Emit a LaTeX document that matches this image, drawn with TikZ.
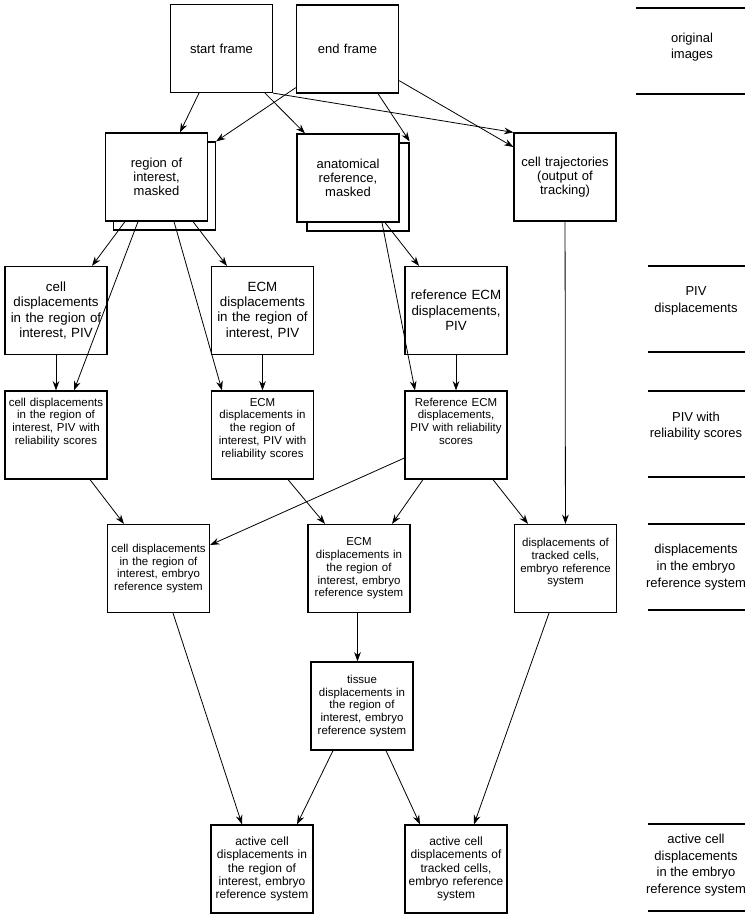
\documentclass[tikz,border=0pt]{standalone}
\usepackage{fontspec}
\setmainfont{Liberation Sans}
\usetikzlibrary{arrows.meta,shadows}

\begin{document}
\begin{tikzpicture}[x=0.75pt,y=-0.75pt,
    box/.style={draw,line width=0.9pt,fill=white,minimum width=76.5pt,minimum height=66pt,inner sep=1pt,text width=72pt,align=center},
    big/.style={font=\fontsize{9.75}{10.5}\selectfont},
    mid/.style={font=\fontsize{10}{11.5}\selectfont},
    small/.style={font=\fontsize{8.6}{9.6}\selectfont},
    foot/.style={font=\fontsize{9}{10}\selectfont},
    stack/.style={copy shadow={shadow xshift=#1,shadow yshift=-6.75pt,line width=0.9pt}},
    topped/.style 2 args={text height=#1,text depth=#2,inner ysep=0pt},
    link/.style={-{Stealth[length=7pt,width=5pt]},line width=0.6pt},
    level/.style={font=\fontsize{9.75}{12.5}\selectfont,align=center},
    rule/.style={line width=0.9pt}]
    \useasboundingbox (0,0) rectangle (750,918);

    % images
    \node[box,big] (sf) at (221.5,48.5) {start frame};
    \node[box,big] (ef) at (347.5,49) {end frame};
    \node[box,big,stack=6pt] (roi) at (156.5,177) {region of\\interest,\\masked};
    \node[box,big,stack=7.5pt] (anat) at (348,178) {anatomical\\reference,\\masked};
    \node[box,big] (traj) at (565,177) {cell trajectories\\(output of\\tracking)};

    % PIV
    \node[box,mid] (cpiv) at (56,310.5) {cell\\displacements\\in the region of\\interest, PIV};
    \node[box,mid] (epiv) at (262.5,310.5) {ECM\\displacements\\in the region of\\interest, PIV};
    \node[box,mid] (rpiv) at (456,310.5) {reference ECM\\displacements,\\PIV};

    % PIV with scores
    \node[box,small,topped={11.25pt}{54.75pt}] (crel) at (56,435) {cell displacements\\in the region of\\interest, PIV with\\reliability scores};
    \node[box,small,topped={11.25pt}{54.75pt}] (erel) at (262.5,435) {ECM\\displacements in\\the region of\\interest, PIV with\\reliability scores};
    \node[box,small,topped={11.25pt}{54.75pt}] (rrel) at (456,435) {Reference ECM\\displacements,\\PIV with reliability\\scores};

    % embryo reference system
    \node[box,small] (cemb) at (158.5,568.5) {cell displacements\\in the region of\\interest, embryo\\reference system};
    \node[box,small] (eemb) at (359,568.5) {ECM\\displacements in\\the region of\\interest, embryo\\reference system};
    \node[box,small,topped={16.5pt}{49.5pt}] (temb) at (565.5,568.5) {displacements of\\tracked cells,\\embryo reference\\system};
    \node[box,small] (tis) at (362,706) {tissue\\displacements in\\the region of\\interest, embryo\\reference system};

    % active
    \node[box,foot] (acr) at (262,869) {active cell\\displacements in\\the region of\\interest, embryo\\reference system};
    \node[box,foot] (act) at (456,869) {active cell\\displacements of\\tracked cells,\\embryo reference\\system};

    \draw[link] ([shift={(-22.5,0)}]sf.south) -- ([shift={(23.5,0)}]roi.north);
    \draw[link] ([shift={(43.5,0)}]sf.south) -- ([shift={(-43,0)}]anat.north);
    \draw[link] (sf.south east) -- (traj.north west);
    \draw[link] ([shift={(0,-6)}]ef.south west) -- ([shift={(8,9)}]roi.north east);
    \draw[link] ([shift={(30.5,0)}]ef.south) -- ([shift={(10,8)}]anat.north east);
    \draw[link] ([shift={(0,-13)}]ef.south east) -- ([shift={(0,-30)}]traj.west);

    \draw[link] ([shift={(-31.5,0)}]roi.south) -- ([shift={(36,0)}]cpiv.north);
    \draw[link] ([shift={(-18.5,0)}]roi.south) -- ([shift={(18,0)}]crel.north);
    \draw[link] ([shift={(17.5,0)}]roi.south) -- ([shift={(-40.5,0)}]erel.north);
    \draw[link] ([shift={(36.5,0)}]roi.south) -- ([shift={(-35.5,0)}]epiv.north);
    \draw[link] ([shift={(34,0)}]anat.south) -- ([shift={(-41,0)}]rrel.north);
    \draw[link] ([shift={(37,0)}]anat.south) -- ([shift={(-37,0)}]rpiv.north);

    \draw[link] (cpiv) -- (crel);
    \draw[link] (epiv) -- (erel);
    \draw[link] (rpiv) -- (rrel);
    \draw[link] (traj) -- (temb);

    \draw[link] ([shift={(34,0)}]crel.south) -- ([shift={(-34.5,0)}]cemb.north);
    \draw[link] ([shift={(25.5,0)}]erel.south) -- ([shift={(-34,0)}]eemb.north);
    \draw[link] ([shift={(0,23)}]rrel.west) -- ([shift={(0,-23.5)}]cemb.east);
    \draw[link] ([shift={(-33,0)}]rrel.south) -- ([shift={(33,0)}]eemb.north);
    \draw[link] ([shift={(37,0)}]rrel.south) -- ([shift={(-37.5,0)}]temb.north);

    \draw[link] ([shift={(-1.5,0)}]eemb.south) -- ([shift={(-4.5,0)}]tis.north);
    \draw[link] ([shift={(14.5,0)}]cemb.south) -- ([shift={(-20,0)}]acr.north);
    \draw[link] ([shift={(-29,0)}]tis.south) -- ([shift={(35,0)}]acr.north);
    \draw[link] ([shift={(24,0)}]tis.south) -- ([shift={(-36,0)}]act.north);
    \draw[link] ([shift={(-16.5,0)}]temb.south) -- ([shift={(18,0)}]act.north);

    % levels
    \node[level] (lorig) at (692,47) {original\\images};
    \node[level] (lpiv) at (696,301) {PIV\\displacements};
    \node[level] (lrel) at (696,426) {PIV with\\reliability scores};
    \node[level] (lemb) at (696,567) {displacements\\in the embryo\\reference system};
    \node[level] (lact) at (696,865) {active cell\\displacements\\in the embryo\\reference system};
    \draw[rule] (636,8) -- (745,8);
    \draw[rule] (636,94) -- (745,94);
    \foreach \y in {266,352,391,477,524,610,824,911}
        \draw[rule] (648,\y) -- (745,\y);
\end{tikzpicture}
\end{document}
